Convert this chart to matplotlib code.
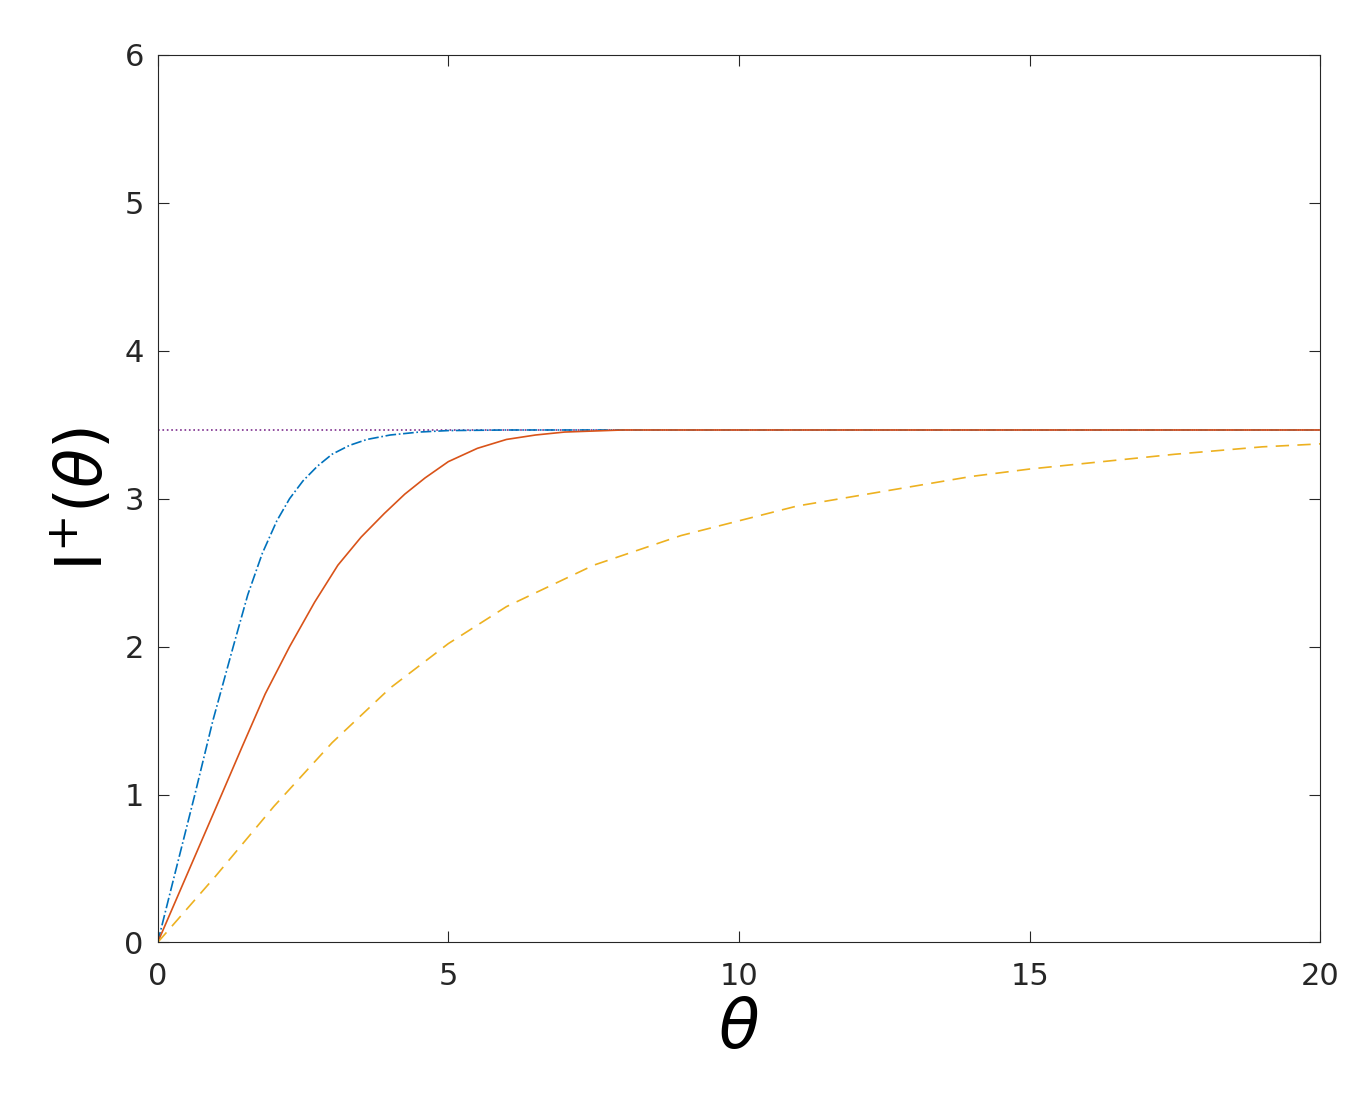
import matplotlib

matplotlib.use("Agg")
import matplotlib.pyplot as plt

# values
blue_x = [0, 0.3, 0.64, 0.95, 1.3, 1.55, 1.8, 2.05, 2.27, 2.5, 2.75, 3.0, 3.3, 3.6, 4.0, 4.5, 5.0, 6.0, 7.0, 20.0]
blue_y = [0, 0.47, 1.0, 1.5, 2.0, 2.35, 2.63, 2.85, 3.0, 3.12, 3.22, 3.3, 3.36, 3.4, 3.43, 3.45, 3.46, 3.464, 3.464, 3.464]

red_x = [0, 0.55, 1.1, 1.45, 1.85, 2.27, 2.7, 3.1, 3.5, 3.9, 4.25, 4.6, 5.0, 5.5, 6.0, 6.5, 7.0, 8.0, 20.0]
red_y = [0, 0.5, 1.0, 1.32, 1.68, 2.0, 2.3, 2.55, 2.74, 2.9, 3.03, 3.14, 3.25, 3.34, 3.4, 3.43, 3.45, 3.464, 3.464]

yellow_x = [0, 1.0, 2.0, 3.0, 4.0, 5.0, 6.0, 7.5, 9.0, 10.0, 11.0, 12.5, 14.0, 15.0, 16.5, 17.5, 19.0, 20.0]
yellow_y = [0, 0.45, 0.92, 1.35, 1.72, 2.02, 2.27, 2.55, 2.75, 2.85, 2.95, 3.05, 3.15, 3.2, 3.26, 3.3, 3.35, 3.37]

limit_x = [0, 20]
limit_y = [3.464, 3.464]

fig = plt.figure(figsize=(13.71, 11.18), dpi=100)
ax = fig.add_axes([0.115, 0.157, 0.848, 0.794])

ax.plot(limit_x, limit_y, color="#7E2F8E", linestyle=":", linewidth=1.2)
ax.plot(blue_x, blue_y, color="#0072BD", linestyle="-.", linewidth=1.2)
ax.plot(red_x, red_y, color="#D95319", linestyle="-", linewidth=1.2)
ax.plot(yellow_x, yellow_y, color="#EDB120", linestyle=(0, (8, 5)), linewidth=1.2)

ax.set_xlim(0, 20)
ax.set_ylim(0, 6)
ax.set_xticks([0, 5, 10, 15, 20])
ax.set_yticks([0, 1, 2, 3, 4, 5, 6])
ax.tick_params(direction="in", top=True, right=True, labelsize=22, length=8, colors="#262626")
ax.tick_params(axis="x", pad=14)
ax.tick_params(axis="y", pad=10)
for spine in ax.spines.values():
    spine.set_color("#262626")

ax.set_xlabel(r"$\theta$", fontsize=48, family="serif", labelpad=4)
ax.set_ylabel(r"$\mathrm{I}^{+}(\theta)$", fontsize=46, labelpad=6)

fig.savefig("out.png")
